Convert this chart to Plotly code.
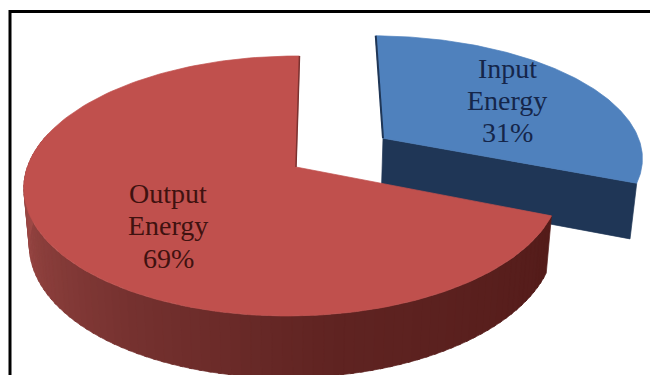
import numpy as np
import plotly.graph_objects as go

# Energy balance shares
names = ["Input", "Output"]
line2 = "Energy"
values = [31, 69]
top_colors = ["#4f81bd", "#c0504d"]
wall_color = "#1f3656"
side_ramp_pos = [0.0, 0.18, 0.42, 0.65, 1.0]
side_ramp_rgb = [(168, 78, 75), (148, 68, 65), (118, 50, 48), (96, 36, 34), (84, 28, 26)]

# Oblique view of the disc: centre on the page, scale, tilt and thickness
CX, CY = 296.0, 167.0
A, B = 265.0, 127.2
SHEAR = -4.0
K, J, Q = 0.146, 0.0134, 0.02
H = 57.0

# Offset and slight scaling of the pulled-out slice, in disc units
OFF_U, OFF_V = 0.3375, -0.235
SCALE_U, SCALE_V = 1.02, 0.985


def project(u, v, z=0.0):
    u, v = np.asarray(u, float), np.asarray(v, float)
    d = 1 - K * v + J * u + Q * z
    return CX + (A * u + SHEAR * v) / d, CY + (B * v + H * z) / d


def arc(a0, a1, n=160):
    t = np.radians(np.linspace(a0, a1, n))
    return np.sin(t), -np.cos(t)


def poly(fig, x, y, color, line=None):
    fig.add_trace(go.Scatter(
        x=np.append(x, x[0]), y=np.append(y, y[0]), mode="lines", fill="toself",
        fillcolor=color, line=dict(color=line or color, width=0.7),
        hoverinfo="skip", showlegend=False))


total = sum(values)
split = 360.0 * values[0] / total

fig = go.Figure()

# Input slice
au, av = arc(0, split)
au, av = au * SCALE_U + OFF_U, av * SCALE_V + OFF_V

# cut face toward the viewer
x0, y0 = project([OFF_U, au[-1]], [OFF_V, av[-1]], 0)
x1, y1 = project([au[-1], OFF_U], [av[-1], OFF_V], 1)
poly(fig, np.r_[x0, x1], np.r_[y0, y1], wall_color)
# top face
xt, yt = project(np.r_[OFF_U, au], np.r_[OFF_V, av], 0)
poly(fig, xt, yt, top_colors[0])
xe, ye = project([au[0], OFF_U], [av[0], OFF_V], 0)
fig.add_trace(go.Scatter(x=xe, y=ye, mode="lines", line=dict(color=wall_color, width=2),
                         hoverinfo="skip", showlegend=False))

# Output slice: rim shaded in narrow strips from left to right
ru, rv = arc(split, 360)
strips = np.linspace(split, 285, 90)
for a0, a1 in zip(strips[:-1], strips[1:]):
    su, sv = arc(a0, a1 + 0.6, 4)
    xa, ya = project(su, sv, 0)
    xb, yb = project(su[::-1], sv[::-1], 1)
    f = (285 - (a0 + a1) / 2) / (285 - split)
    rgb = [np.interp(f, side_ramp_pos, [c[i] for c in side_ramp_rgb]) for i in range(3)]
    poly(fig, np.r_[xa, xb], np.r_[ya, yb], "rgb(%d,%d,%d)" % tuple(rgb))

xt, yt = project(np.r_[0.0, ru], np.r_[0.0, rv], 0)
poly(fig, xt, yt, top_colors[1])
xe, ye = project([ru[-1], 0.0], [rv[-1], 0.0], 0)
fig.add_trace(go.Scatter(x=xe, y=ye, mode="lines", line=dict(color="#7a3230", width=1.5),
                         hoverinfo="skip", showlegend=False))

# Slice labels, one annotation per line
label_x = [507, 168]
label_y = [[68, 100, 132], [193, 225, 258]]
label_colors = ["#15264a", "#3f1210"]
annotations = []
for i, name in enumerate(names):
    lines = [name, line2, f"{values[i]}%"]
    for txt, y in zip(lines, label_y[i]):
        annotations.append(dict(x=label_x[i], y=y, text=txt, showarrow=False, xref="x", yref="y",
                                font=dict(family="Liberation Serif", size=28, color=label_colors[i])))

fig.update_layout(
    width=650, height=375, margin=dict(l=0, r=0, t=0, b=0),
    paper_bgcolor="white", plot_bgcolor="white", annotations=annotations,
    xaxis=dict(range=[0, 650], visible=False, fixedrange=True),
    yaxis=dict(range=[375, 0], visible=False, fixedrange=True),
    shapes=[
        dict(type="line", x0=10, x1=10, y0=10, y1=375, xref="x", yref="y", line=dict(color="black", width=3)),
        dict(type="line", x0=9, x1=650, y0=11.5, y1=11.5, xref="x", yref="y", line=dict(color="black", width=3)),
    ],
)
fig.write_html("out.html", config={"displayModeBar": False})
